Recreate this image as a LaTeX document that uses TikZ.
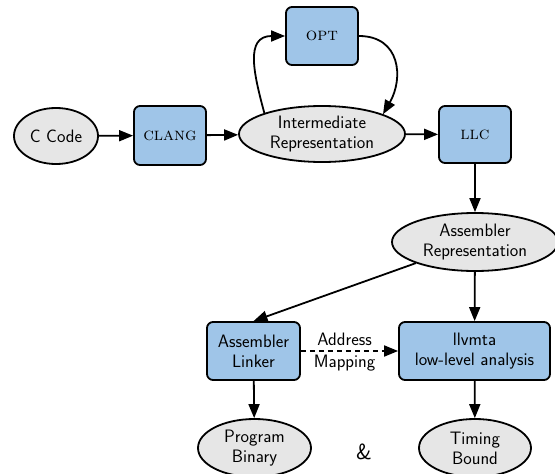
\documentclass[tikz,border=0pt]{standalone}
\usetikzlibrary{shapes.geometric,arrows.meta}
\definecolor{boxblue}{RGB}{159,197,232}
\definecolor{ellgray}{RGB}{230,230,230}
\begin{document}
\begin{tikzpicture}[x=1pt,y=-1pt,
  every node/.style={font=\fontsize{18}{20}\selectfont\sffamily},
  ell/.style={ellipse,draw,line width=1.8pt,fill=ellgray,inner sep=0pt,align=center},
  box/.style={rectangle,rounded corners=6pt,draw,line width=1.8pt,fill=boxblue,inner sep=0pt,align=center},
  tool/.style={box,font=\fontsize{18}{20}\selectfont\rmfamily\scshape},
  conn/.style={line width=1.8pt,-{Triangle[length=14pt,width=11pt]}},
]
\useasboundingbox (0,0) rectangle (555,474);
\node[ell,minimum width=84pt,minimum height=56pt] (ccode) at (56,136) {C Code};
\node[tool,minimum width=72pt,minimum height=59pt] (clang) at (170,135.5) {clang};
\node[ell,minimum width=166pt,minimum height=56pt] (ir) at (322,134) {Intermediate\\Representation};
\node[tool,minimum width=72pt,minimum height=58pt] (opt) at (322,36) {opt};
\node[tool,minimum width=72pt,minimum height=57pt] (llc) at (475,134.5) {llc};
\node[ell,minimum width=166pt,minimum height=58pt] (asmrep) at (475,242) {Assembler\\Representation};
\node[box,minimum width=93pt,minimum height=58pt] (linker) at (253.5,351) {Assembler\\Linker};
\node[box,minimum width=151pt,minimum height=58pt] (llvmta) at (474.5,351) {llvmta\\low-level analysis};
\node[ell,minimum width=113pt,minimum height=58pt] (prog) at (254.5,448) {Program\\Binary};
\node[ell,minimum width=112pt,minimum height=58pt] (timing) at (475,448) {Timing\\Bound};
\node[font=\fontsize{22}{24}\selectfont\sffamily] (amp) at (364,452) {\&};

\draw[conn] (ccode) -- (clang);
\draw[conn] (clang) -- (ir);
\draw[conn] (ir) -- (llc);
\draw[conn] (ir.160) to[out=105,in=180,looseness=1.3] (opt.west);
\draw[conn] (opt.east) to[out=0,in=60,looseness=1.3] (ir.18);
\draw[conn] (llc) -- (asmrep);
\draw[conn] (asmrep) -- (linker.north);
\draw[conn] (asmrep) -- (llvmta);
\draw[conn,dash pattern=on 5pt off 4pt] (linker) -- node[pos=0.45,above,inner sep=4pt] (addr) {Address} node[pos=0.45,below,inner sep=3.5pt] (map) {Mapping} (llvmta);
\draw[conn] (linker) -- (prog);
\draw[conn] (llvmta) -- (timing);
\end{tikzpicture}
\end{document}
